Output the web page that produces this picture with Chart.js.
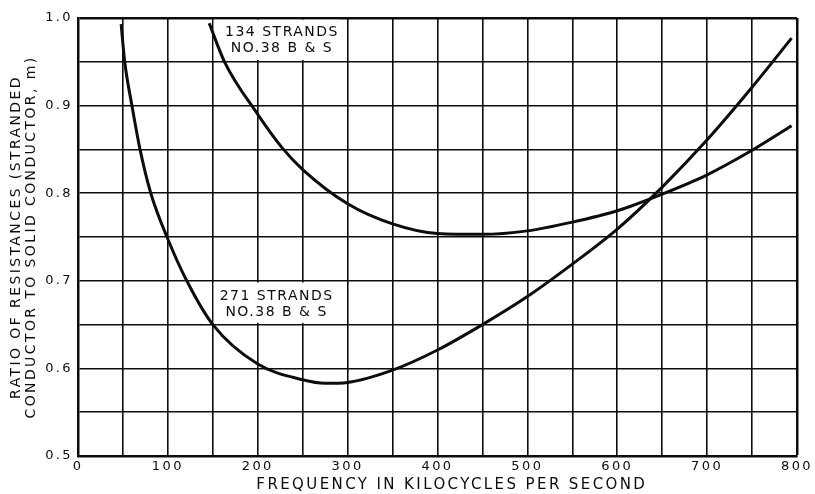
<!DOCTYPE html>
<html>
<head>
<meta charset="utf-8">
<script src="https://cdn.jsdelivr.net/npm/chart.js@4.4.1/dist/chart.umd.min.js"></script>
<style>
  html, body { margin: 0; padding: 0; background: #fff; }
  canvas { display: block; }
</style>
</head>
<body>
<canvas id="myChart" width="815" height="494"></canvas>
<script>
// values (frequency in kc, ratio m)
const freq271 = [48, 52, 60, 69, 81, 99, 121, 150, 200, 250, 275, 300, 350, 400, 450, 500, 550, 600, 650, 700, 750, 794];
const ratio271 = [0.993, 0.95, 0.9, 0.85, 0.8, 0.75, 0.7, 0.65, 0.605, 0.587, 0.583, 0.584, 0.598, 0.621, 0.65, 0.682, 0.719, 0.759, 0.807, 0.861, 0.921, 0.977];

const freq134 = [146, 163, 200, 227, 250, 300, 350, 400, 450, 500, 550, 600, 650, 700, 750, 794];
const ratio134 = [0.994, 0.95, 0.89, 0.852, 0.827, 0.788, 0.765, 0.754, 0.753, 0.757, 0.767, 0.780, 0.799, 0.821, 0.849, 0.877];

const xLabelled = [0, 100, 200, 300, 400, 500, 600, 700, 800];
const yLabelled = [0.5, 0.6, 0.7, 0.8, 0.9, 1.0];

const label134 = ['134 STRANDS', 'NO.38 B & S'];
const label271 = ['271 STRANDS', 'NO.38 B & S'];

// leading spaces nudge the title right, like the original lettering
const xTitle = '    FREQUENCY IN KILOCYCLES PER SECOND';
const yTitle = ['RATIO OF RESISTANCES (STRANDED', 'CONDUCTOR TO SOLID CONDUCTOR, m)'];

const ink = '#0c0c0c';
const fontFamily = '"DejaVu Sans", sans-serif';

// where the curve notes sit, in data units
const notes = [
  { lines: label134, x0: 151, x1: 292, y0: 0.952, y1: 0.998, cx: 227, cy: 0.974 },
  { lines: label271, x0: 151, x1: 296, y0: 0.652, y1: 0.698, cx: 221, cy: 0.673 }
];

function toPoints(xs, ys) {
  return xs.map((x, i) => ({ x: x, y: ys[i] }));
}

const notePlugin = {
  id: 'notes',
  beforeDraw(chart) {
    chart.ctx.letterSpacing = '2.4px';
  },
  beforeDatasetsDraw(chart) {
    const ctx = chart.ctx;
    const xs = chart.scales.x;
    const ys = chart.scales.y;
    ctx.save();
    notes.forEach(n => {
      const left = xs.getPixelForValue(n.x0);
      const right = xs.getPixelForValue(n.x1);
      const top = ys.getPixelForValue(n.y1);
      const bottom = ys.getPixelForValue(n.y0);
      ctx.fillStyle = '#fff';
      ctx.fillRect(left, top, right - left, bottom - top);
      ctx.fillStyle = ink;
      ctx.font = '14px ' + fontFamily;
      ctx.letterSpacing = '1.5px';
      ctx.textAlign = 'center';
      ctx.textBaseline = 'middle';
      const cx = xs.getPixelForValue(n.cx);
      const cy = ys.getPixelForValue(n.cy);
      ctx.fillText(n.lines[0], cx, cy - 8);
      ctx.fillText(n.lines[1], cx, cy + 8);
    });
    ctx.restore();
  }
};

const ctx = document.getElementById('myChart').getContext('2d');
const chart = new Chart(ctx, {
  type: 'line',
  data: {
    datasets: [{
      label: '271 strands',
      data: toPoints(freq271, ratio271),
      borderColor: ink,
      borderWidth: 3,
      pointRadius: 0,
      fill: false,
      cubicInterpolationMode: 'monotone'
    }, {
      label: '134 strands',
      data: toPoints(freq134, ratio134),
      borderColor: ink,
      borderWidth: 3,
      pointRadius: 0,
      fill: false,
      cubicInterpolationMode: 'monotone'
    }]
  },
  options: {
    responsive: false,
    animation: false,
    devicePixelRatio: 1,
    layout: { padding: { top: 18, right: 18, left: 0, bottom: 0 } },
    plugins: {
      legend: { display: false },
      tooltip: { enabled: false }
    },
    scales: {
      x: {
        type: 'linear',
        min: 0,
        max: 800,
        afterFit: scale => { scale.height = 38; },
        ticks: {
          stepSize: 50,
          color: ink,
          padding: 3,
          maxRotation: 0,
          autoSkip: false,
          font: { family: fontFamily, size: 13 },
          callback: v => xLabelled.includes(v) ? String(v) : ''
        },
        grid: {
          color: ink,
          drawTicks: false,
          lineWidth: c => c.tick && c.tick.value === 800 ? 2.5 : 1.6
        },
        border: { color: ink, width: 2.5 },
        title: {
          display: true,
          text: xTitle,
          color: ink,
          font: { family: fontFamily, size: 15 },
          padding: { top: 0, bottom: 0 }
        }
      },
      y: {
        type: 'linear',
        min: 0.5,
        max: 1.0,
        afterFit: scale => { scale.width = 78; },
        ticks: {
          stepSize: 0.05,
          color: ink,
          padding: 5,
          autoSkip: false,
          font: { family: fontFamily, size: 13 },
          callback: v => yLabelled.some(t => Math.abs(t - v) < 1e-6) ? v.toFixed(1) : ''
        },
        grid: {
          color: ink,
          drawTicks: false,
          lineWidth: c => c.tick && Math.abs(c.tick.value - 1) < 1e-6 ? 2.5 : 1.6
        },
        border: { color: ink, width: 2.5 },
        title: {
          display: true,
          text: yTitle,
          color: ink,
          font: { family: fontFamily, size: 14, lineHeight: 1.05 },
          padding: { top: 9, bottom: 0 }
        }
      }
    }
  },
  plugins: [notePlugin]
});
</script>
</body>
</html>
